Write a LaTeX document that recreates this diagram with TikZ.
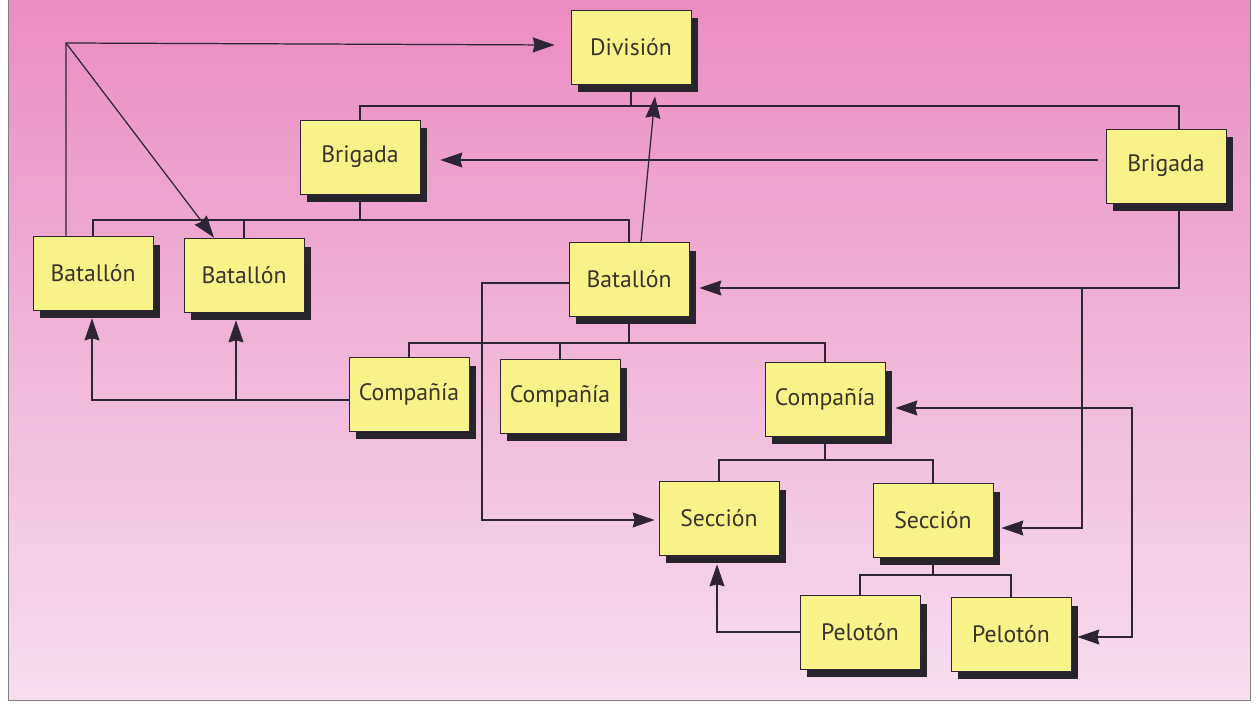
\documentclass[tikz,border=0pt]{standalone}
\usepackage{fontspec}
\setmainfont{PT Sans}
\usetikzlibrary{arrows.meta,positioning,calc,shadows}

\definecolor{pinktop}{RGB}{234,140,192}
\definecolor{pinkmid}{RGB}{240,184,218}
\definecolor{pinkbot}{RGB}{246,222,239}
\definecolor{boxfill}{RGB}{247,243,136}
\definecolor{inkline}{RGB}{45,36,52}
\definecolor{shadowc}{RGB}{40,36,44}

\begin{document}
\begin{tikzpicture}[x=0.02cm,y=-0.02cm,>={Stealth[length=0.44cm,width=0.3cm,inset=0.04cm]}]
  \tikzstyle{unit}=[draw=inkline,fill=boxfill,minimum width=2.4cm,minimum height=1.48cm,
    font=\fontsize{13.5}{16}\selectfont,text=black!80!olive,
    drop shadow={shadow xshift=0.14cm,shadow yshift=-0.17cm,fill=shadowc,opacity=1}]
  \tikzstyle{tie}=[draw=inkline,line width=0.7pt]
  \tikzstyle{link}=[draw=inkline,line width=0.7pt,->]
  \useasboundingbox (0,0) rectangle (1259,705);
  % fondo
  \shade[top color=pinktop,middle color=pinkmid,bottom color=pinkbot,draw=gray]
    (8,-5) rectangle (1250,700);
  % unidades
  \node[unit] (div) at (631,47) {División};
  \node[unit] (brigL) at (360,157) {Brigada};
  \node[unit] (brigR) at (1166,166) {Brigada};
  \node[unit] (bat1) at (93,273) {Batallón};
  \node[unit] (bat2) at (244,275) {Batallón};
  \node[unit] (bat3) at (629,279) {Batallón};
  \node[unit] (com1) at (409,394) {Compañía};
  \node[unit] (com2) at (560,396) {Compañía};
  \node[unit] (com3) at (825,399) {Compañía};
  \node[unit] (sec1) at (719,518) {Sección};
  \node[unit] (sec2) at (933,520) {Sección};
  \node[unit] (pel1) at (860,632) {Pelotón};
  \node[unit] (pel2) at (1011,634) {Pelotón};
  % jerarquia
  \coordinate (j1) at (631,106);
  \coordinate (j2) at (360,220);
  \coordinate (j3) at (629,343);
  \coordinate (j4) at (825,460);
  \coordinate (j5) at (933,575);
  \draw[tie] (div) -- (j1);
  \draw[tie] (brigL) |- (j1) -| ($(brigR.north)+(13,0)$);
  \draw[tie] (brigL) -- (j2);
  \draw[tie] (bat1) |- (j2) -| (bat3);
  \draw[tie] (bat2) -- (bat2 |- j2);
  \draw[tie] (bat3) -- (j3);
  \draw[tie] (com1) |- (j3) -| (com3);
  \draw[tie] (com2) -- (com2 |- j3);
  \draw[tie] (com3) -- (j4);
  \draw[tie] (sec1) |- (j4) -| (sec2);
  \draw[tie] (sec2) -- (j5);
  \draw[tie] (pel1) |- (j5) -| (pel2);
  % enlaces
  \coordinate (k1) at (66,43);
  \coordinate (k5) at (1179,288);
  \coordinate (k6) at (1082,288);
  \coordinate (k7) at (482,283);
  \coordinate (k8) at (236,400);
  \coordinate (k10) at (1132,408);
  \draw[link] (bat1.north -| k1) -- (k1) -- ($(div.west)+(-16,-2)$);
  \draw[link] (k1) -- ($(bat2.north)+(-30,0)$);
  \draw[link] ($(bat3.north)+(12,0)$) -- ($(div.south)+(24,12)$);
  \draw[link] ($(brigR.west)+(-8,-6)$) -- ($(brigL.east)+(20,3)$);
  \draw[link] ($(brigR.south)+(13,0)$) -- (k5) -- ($(bat3.east)+(10,9)$);
  \draw[link] (k6) |- ($(sec2.east)+(8,8)$);
  \draw[link] ($(bat3.west)+(0,4)$) -- (k7) |- ($(sec1.west)+(-4,2)$);
  \draw[link] ($(com1.west)+(0,6)$) -| ($(bat1.south)+(-1,8)$);
  \draw[link] (k8) -- ($(bat2.south)+(-8,8)$);
  \draw[link] (pel1.west) -| ($(sec1.south)+(-2,9)$);
  \draw[link,<->] ($(com3.east)+(10,9)$) -- (k10) |- ($(pel2.east)+(6,3)$);
\end{tikzpicture}
\end{document}
